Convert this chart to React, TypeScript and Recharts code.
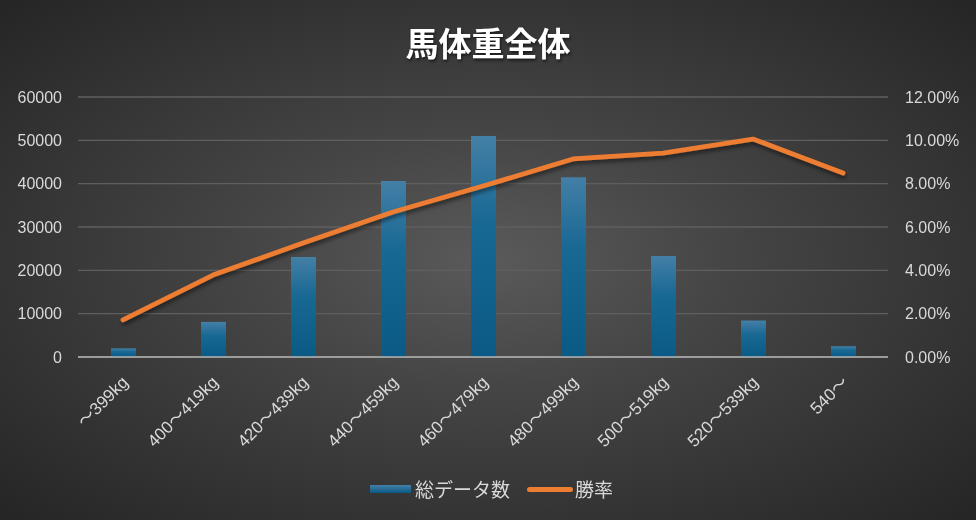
import React from 'react';
import { ComposedChart, Bar, Line, XAxis, YAxis, CartesianGrid } from 'recharts';

const categories = ['～399kg', '400～419kg', '420～439kg', '440～459kg', '460～479kg', '480～499kg', '500～519kg', '520～539kg', '540～'];
const totalCounts = [2000, 8100, 23100, 40600, 51000, 41500, 23300, 8400, 2500];
const winRates = [0.0171, 0.0378, 0.0526, 0.0669, 0.0789, 0.0914, 0.0941, 0.1006, 0.0849];
const leftTicks = [0, 10000, 20000, 30000, 40000, 50000, 60000];
const rightTicks = [0, 0.02, 0.04, 0.06, 0.08, 0.1, 0.12];

const data = categories.map((name, i) => ({ name, count: totalCounts[i], rate: winRates[i] }));

const FONT = "'Liberation Sans', 'Noto Sans CJK JP', sans-serif";
const TICK = '#d9d9d9';

const RotatedTick = (props: any) => {
  const { x, y, payload } = props;
  return (
    <g transform={`translate(${x + 2},${y + 14})`}>
      <text x={0} y={0} dy={6} textAnchor="end" fill={TICK} fontSize={17} fontFamily={FONT} transform="rotate(-45)">
        {payload.value}
      </text>
    </g>
  );
};

const App: React.FC = () => {
  return (
    <div
      style={{
        position: 'fixed',
        left: 0,
        top: 0,
        width: 976,
        height: 520,
        background: 'radial-gradient(ellipse farthest-corner at 50% 50%, #5a5a5a 0%, #454545 35%, #252525 100%)',
        fontFamily: FONT,
      }}
    >
      <div
        style={{
          position: 'absolute',
          left: 0,
          width: 976,
          top: 22,
          textAlign: 'center',
          color: '#ffffff',
          fontSize: 33,
          fontWeight: 'bold',
          fontFamily: "'Noto Sans CJK JP', sans-serif",
          textShadow: '1px 2px 3px rgba(0,0,0,0.6)',
          lineHeight: '40px',
        }}
      >
        馬体重全体
      </div>
      <ComposedChart width={976} height={520} data={data} margin={{ top: 97, right: 8, left: 8, bottom: 63 }} barSize={25}>
        <defs>
          <linearGradient id="barFill" x1="0" y1="0" x2="0" y2="1">
            <stop offset="0%" stopColor="#447fa6" />
            <stop offset="40%" stopColor="#176893" />
            <stop offset="100%" stopColor="#0b5a86" />
          </linearGradient>
          <filter id="lineShadow" x="-10%" y="-10%" width="120%" height="140%">
            <feDropShadow dx="1" dy="3" stdDeviation="2" floodColor="#000" floodOpacity="0.5" />
          </filter>
        </defs>
        <CartesianGrid vertical={false} stroke="#5f5f5f" strokeWidth={1.3} yAxisId="left" />
        <XAxis
          dataKey="name"
          axisLine={{ stroke: '#b5b5b5', strokeWidth: 1.5 }}
          tickLine={false}
          interval={0}
          height={100}
          tick={<RotatedTick />}
        />
        <YAxis
          yAxisId="left"
          domain={[0, 60000]}
          ticks={leftTicks}
          axisLine={false}
          tickLine={false}
          width={70}
          tickMargin={10}
          tick={{ fill: TICK, fontSize: 16, fontFamily: FONT }}
        />
        <YAxis
          yAxisId="right"
          orientation="right"
          domain={[0, 0.12]}
          ticks={rightTicks}
          axisLine={false}
          tickLine={false}
          width={80}
          tickMargin={11}
          tick={{ fill: TICK, fontSize: 16, fontFamily: FONT, textAnchor: 'start' }}
          tickFormatter={(v: number) => `${(v * 100).toFixed(2)}%`}
        />
        <Bar yAxisId="left" dataKey="count" fill="url(#barFill)" isAnimationActive={false} />
        <Line
          yAxisId="right"
          dataKey="rate"
          type="linear"
          stroke="#ed7d31"
          strokeWidth={4.8}
          strokeLinecap="round"
          strokeLinejoin="round"
          dot={false}
          activeDot={false}
          filter="url(#lineShadow)"
          isAnimationActive={false}
        />
      </ComposedChart>
      <div
        style={{
          position: 'absolute',
          top: 477,
          left: 370,
          display: 'flex',
          alignItems: 'center',
          color: TICK,
          fontSize: 19,
          fontFamily: "'Noto Sans CJK JP', sans-serif",
          lineHeight: '24px',
        }}
      >
        <span style={{ display: 'inline-block', width: 41, height: 8, background: 'linear-gradient(#447fa6, #0b5a86)', marginRight: 4 }} />
        <span>総データ数</span>
        <span style={{ display: 'inline-block', width: 46, height: 5, borderRadius: 3, background: '#ed7d31', marginLeft: 17, marginRight: 2 }} />
        <span>勝率</span>
      </div>
    </div>
  );
};

export default App;
